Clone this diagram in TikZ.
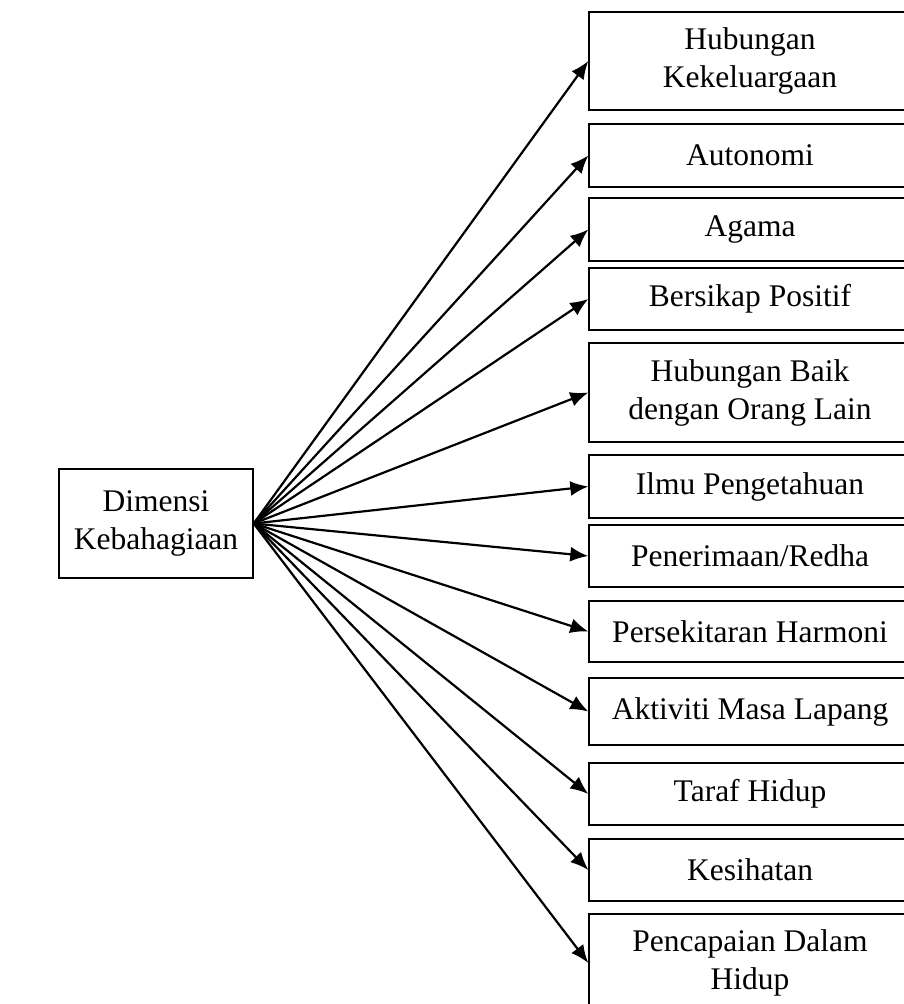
\documentclass[tikz,border=0pt]{standalone}
\usepackage{fontspec}
\setmainfont{Liberation Serif}
\usepackage{tikz}
\usetikzlibrary{arrows.meta}

\tikzset{
  dimbox/.style={draw, line width=0.7pt, align=center, inner sep=2pt,
    minimum width=97pt, minimum height=54.5pt,
    font=\fontsize{15.75}{19}\selectfont},
  itembox/.style={draw, line width=0.7pt, align=center, inner sep=2pt,
    minimum width=161pt, font=\fontsize{15.75}{19}\selectfont},
  arr/.style={line width=1.1pt, -{Latex[length=9pt,width=7.5pt]}}
}

\begin{document}
\begin{tikzpicture}[x=0.5pt,y=-0.5pt]
            \useasboundingbox (0,0) rectangle (903,1004);
            % centre box
            \node[dimbox] (dimensi) at (156,523.5) {Dimensi\\Kebahagiaan};
            % dimensions on the right
            \node[itembox, minimum height=49pt] (keluarga) at (750,61) {Hubungan\\Kekeluargaan};
            \node[itembox, minimum height=31.5pt] (autonomi) at (750,155.5) {Autonomi};
            \node[itembox, minimum height=31.5pt] (agama) at (750,229.5) {Agama};
            \node[itembox, minimum height=31pt] (positif) at (750,299) {Bersikap Positif};
            \node[itembox, minimum height=49.5pt] (baik) at (750,392.5) {Hubungan Baik\\dengan Orang Lain};
            \node[itembox, minimum height=31.5pt] (ilmu) at (750,486.5) {Ilmu Pengetahuan};
            \node[itembox, minimum height=31pt] (redha) at (750,556) {Penerimaan/Redha};
            \node[itembox, minimum height=30.5pt] (harmoni) at (750,631.5) {Persekitaran Harmoni};
            \node[itembox, minimum height=33.5pt] (lapang) at (750,711.5) {Aktiviti Masa Lapang};
            \node[itembox, minimum height=31pt] (taraf) at (750,794) {Taraf Hidup};
            \node[itembox, minimum height=31pt] (sihat) at (750,870) {Kesihatan};
            \node[itembox, minimum height=49pt] (capai) at (750,963) {Pencapaian Dalam\\Hidup};
            % arrows
            \foreach \n in {keluarga,autonomi,agama,positif,baik,ilmu,redha,harmoni,lapang,taraf,sihat,capai}
                \draw[arr] (dimensi.east) -- (\n.west);
        \end{tikzpicture}
\end{document}
